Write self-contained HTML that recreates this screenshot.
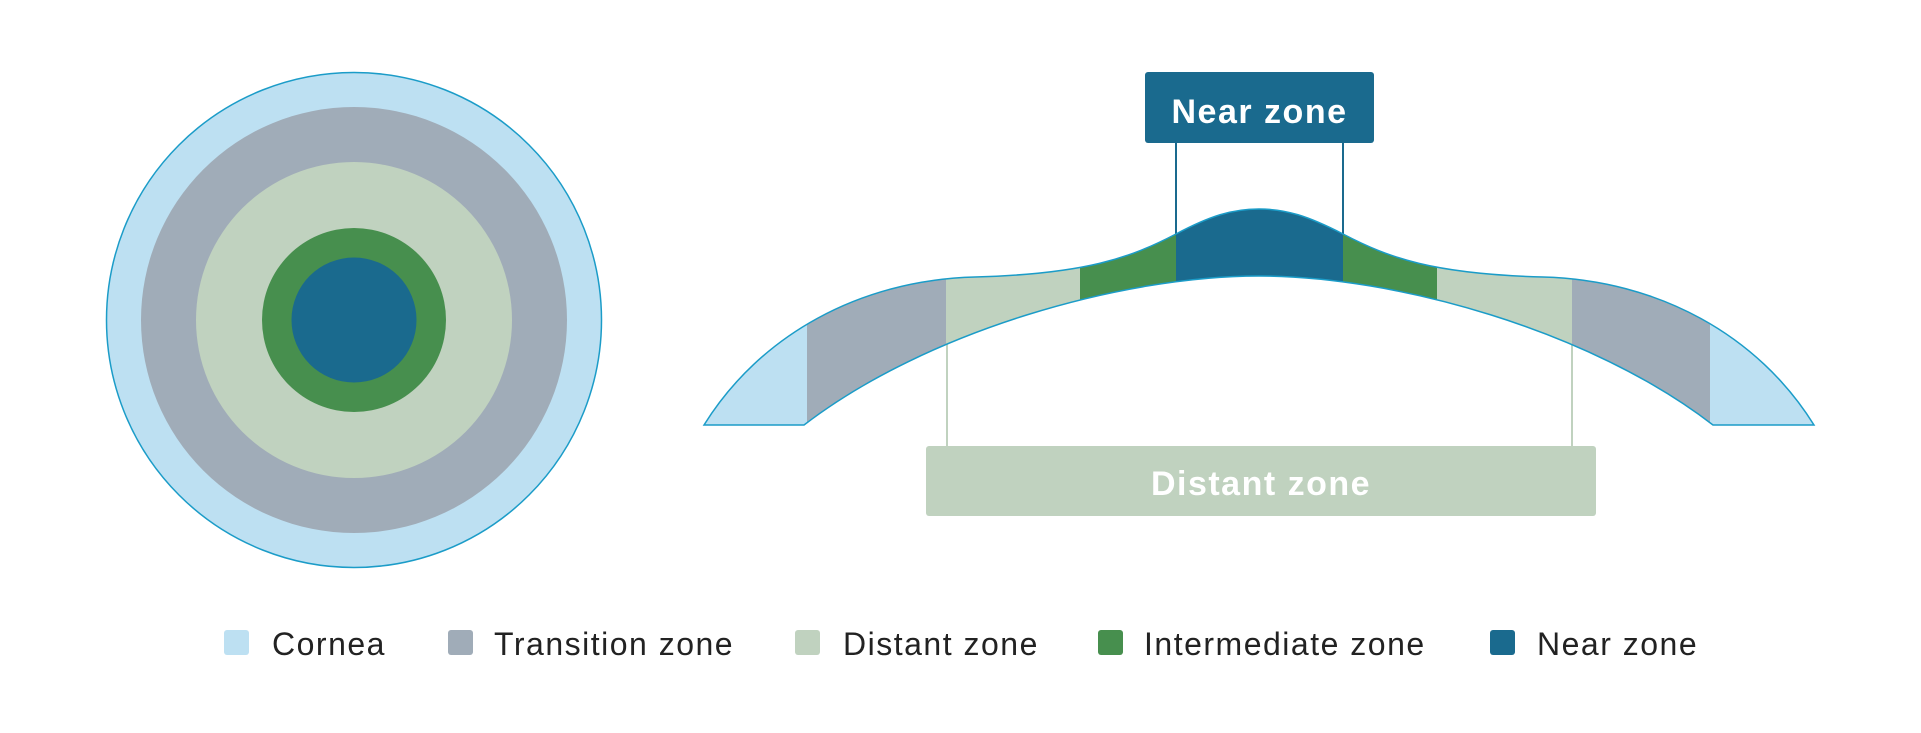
<!DOCTYPE html>
<html><head><meta charset="utf-8"><style>
html,body{margin:0;padding:0;background:#fff;}
body{width:1921px;height:728px;overflow:hidden;}
svg text{font-family:"Liberation Sans",sans-serif;}
</style></head><body>
<svg width="1921" height="728" viewBox="0 0 1921 728" xmlns="http://www.w3.org/2000/svg">
<defs>
<clipPath id="lens"><path d="M704,425 C760,335 860,280 975,277 C1085,274 1130,258 1176,234 C1210,216 1232,209 1259,209 C1286,209 1308,216 1343,234 C1389,258 1433,274 1543,277 C1658,280 1758,335 1814,425 L1713,425 C1590,330 1395,276 1259,276 C1123,276 928,330 804,425 Z"/></clipPath>
</defs>
<circle cx="354" cy="320" r="247.5" fill="#bde0f2" stroke="#1b9cc8" stroke-width="1.5"/>
<circle cx="354" cy="320" r="213" fill="#a0acb8"/>
<circle cx="354" cy="320" r="158" fill="#c0d2bf"/>
<circle cx="354" cy="320" r="92" fill="#478f4e"/>
<circle cx="354" cy="320" r="62.5" fill="#1a6a8e"/>
<line x1="1176" y1="143" x2="1176" y2="236" stroke="#1a6a8e" stroke-width="2"/>
<line x1="1343" y1="143" x2="1343" y2="236" stroke="#1a6a8e" stroke-width="2"/>
<line x1="947" y1="330" x2="947" y2="447" stroke="#c0d2bf" stroke-width="2"/>
<line x1="1572" y1="330" x2="1572" y2="447" stroke="#c0d2bf" stroke-width="2"/>
<g clip-path="url(#lens)">
<rect x="690" y="200" width="1140" height="240" fill="#bde0f2"/>
<rect x="807" y="200" width="903" height="240" fill="#a0acb8"/>
<rect x="946" y="200" width="626" height="240" fill="#c0d2bf"/>
<rect x="1080" y="200" width="357" height="240" fill="#478f4e"/>
<rect x="1176" y="200" width="167" height="240" fill="#1a6a8e"/>
</g>
<path d="M704,425 C760,335 860,280 975,277 C1085,274 1130,258 1176,234 C1210,216 1232,209 1259,209 C1286,209 1308,216 1343,234 C1389,258 1433,274 1543,277 C1658,280 1758,335 1814,425 L1713,425 C1590,330 1395,276 1259,276 C1123,276 928,330 804,425 Z" fill="none" stroke="#1b9cc8" stroke-width="1.5"/>
<rect x="1145" y="72" width="229" height="71" rx="3" fill="#1a6a8e"/>
<text x="1259.5" y="123" text-anchor="middle" font-size="34" font-weight="bold" fill="#fff" letter-spacing="1.5">Near zone</text>
<rect x="926" y="446" width="670" height="70" rx="3" fill="#c0d2bf"/>
<text x="1261" y="495" text-anchor="middle" font-size="34" font-weight="bold" fill="#fff" letter-spacing="1.5">Distant zone</text>
<g font-size="32" fill="#222" letter-spacing="1.5">
<rect x="224" y="630" width="25" height="25" rx="3" fill="#bde0f2"/>
<text x="272" y="655">Cornea</text>
<rect x="448" y="630" width="25" height="25" rx="3" fill="#a0acb8"/>
<text x="494" y="655">Transition zone</text>
<rect x="795" y="630" width="25" height="25" rx="3" fill="#c0d2bf"/>
<text x="843" y="655">Distant zone</text>
<rect x="1098" y="630" width="25" height="25" rx="3" fill="#478f4e"/>
<text x="1144" y="655">Intermediate zone</text>
<rect x="1490" y="630" width="25" height="25" rx="3" fill="#1a6a8e"/>
<text x="1537" y="655">Near zone</text>
</g>
</svg>
</body></html>
